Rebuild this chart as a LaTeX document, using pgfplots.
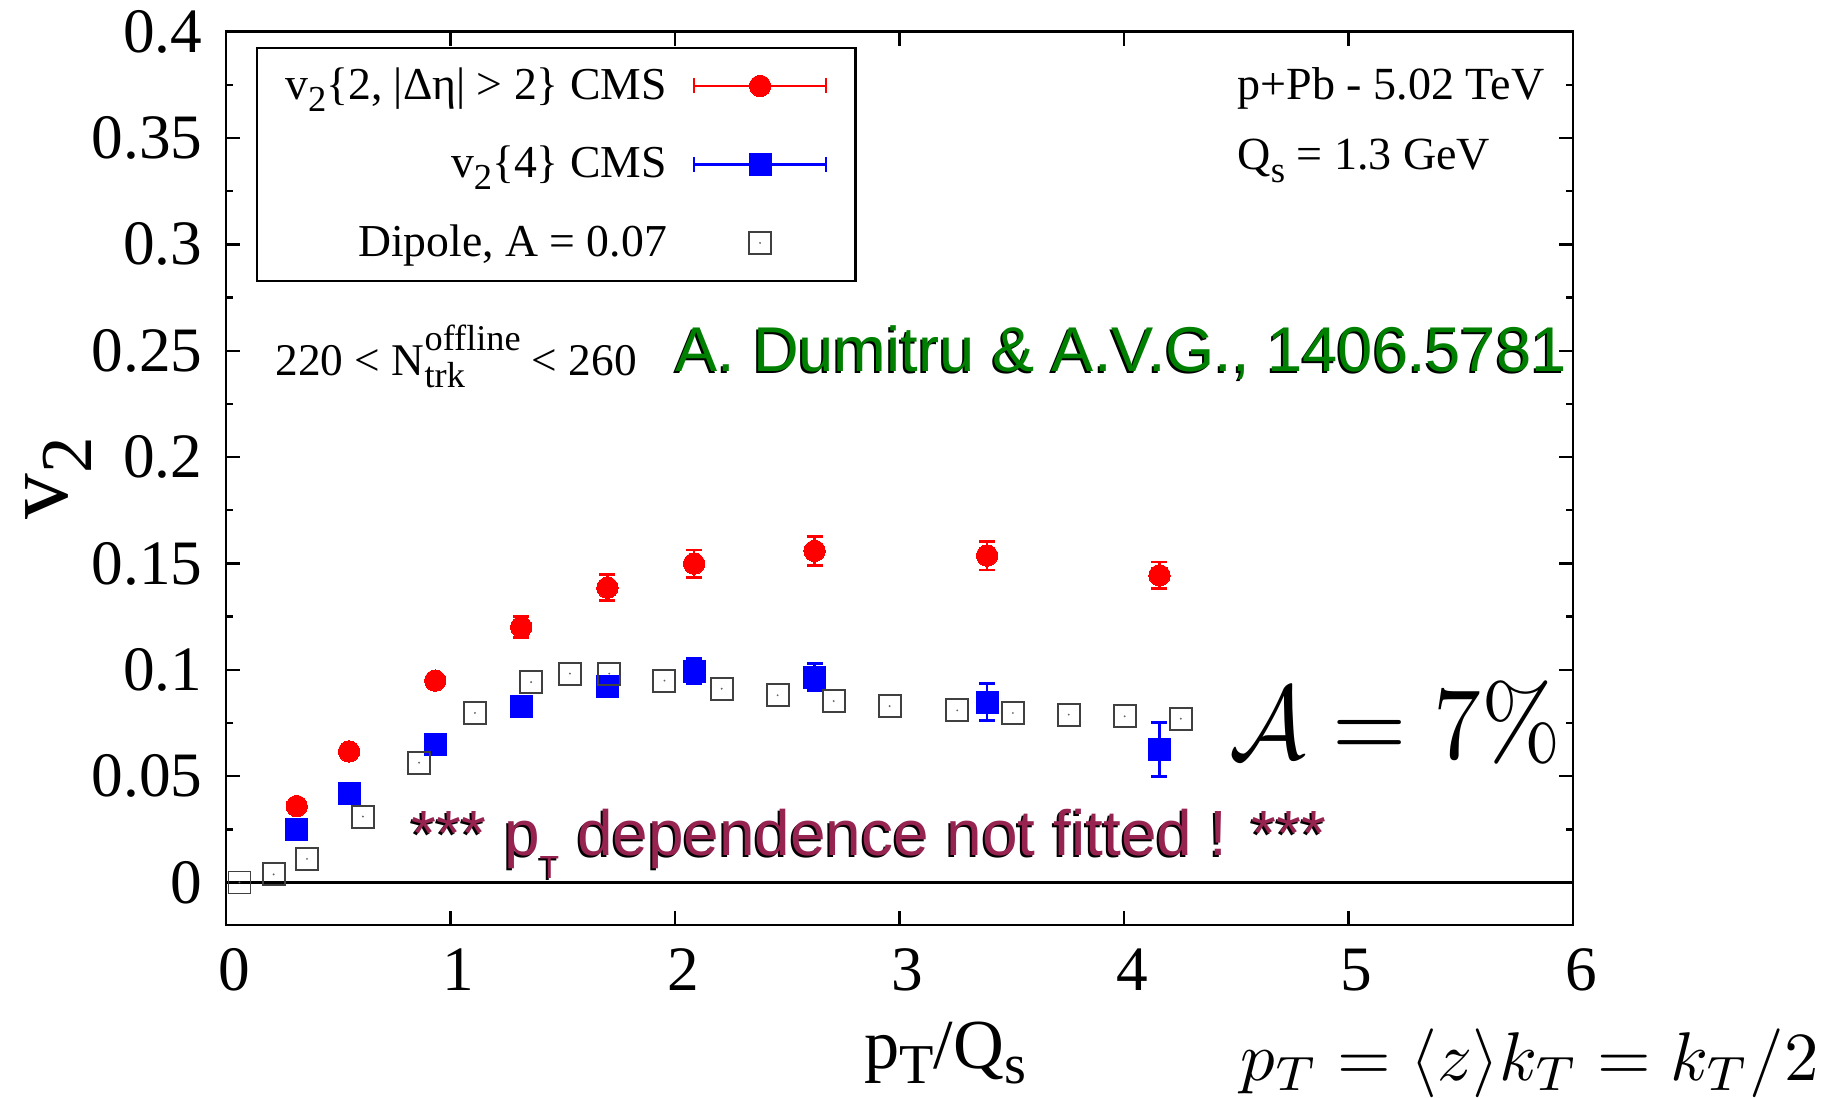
\documentclass[border=0pt]{standalone}
\usepackage[no-math]{fontspec}
\setmainfont{Liberation Serif}
\newfontfamily\arial{Liberation Sans}
\usepackage{graphicx}
\usepackage{pgfplots}
\pgfplotsset{compat=1.18}

\definecolor{maroon}{RGB}{150,35,80}
\definecolor{dgreen}{RGB}{0,128,0}

% gnuplot-style lowered / raised small text
\newcommand\gsub[1]{\raisebox{-0.27em}{\scalebox{0.8}{#1}}}
\newcommand\gsubx[1]{\raisebox{-0.22em}{\scalebox{0.8}{#1}}}
\newcommand\gsup[1]{\raisebox{0.55em}{\scalebox{0.8}{#1}}}

% open square with a tiny dot in the middle
\pgfdeclareplotmark{dipsq}{%
  \pgfpathrectangle{\pgfqpoint{-\pgfplotmarksize}{-\pgfplotmarksize}}%
    {\pgfqpoint{2\pgfplotmarksize}{2\pgfplotmarksize}}%
  \pgfusepathqstroke
  \pgfpathcircle{\pgfpointorigin}{0.3pt}%
  \pgfusepathqfill}

\pgfplotstableread{
x      y       e
0.315  0.0359  0.003
0.548  0.0616  0.003
0.932  0.0949  0.003
1.315  0.1201  0.0051
1.699  0.1386  0.0061
2.085  0.1499  0.0064
2.622  0.1559  0.0068
3.390  0.1537  0.0068
4.158  0.1444  0.0063
}\vtwoTwo

\pgfplotstableread{
x      y       e
0.315  0.0249  0.002
0.548  0.0420  0.002
0.932  0.0648  0.002
1.315  0.0828  0.003
1.699  0.0922  0.004
2.085  0.0993  0.0060
2.622  0.0966  0.0063
3.390  0.0848  0.0086
4.158  0.0626  0.0127
}\vtwoFour

\pgfplotstableread{
x      y
0.060  0.0000
0.212  0.0038
0.361  0.0111
0.610  0.0310
0.860  0.0563
1.109  0.0797
1.359  0.0942
1.532  0.0982
1.707  0.0982
1.953  0.0949
2.208  0.0911
2.457  0.0880
2.707  0.0853
2.956  0.0829
3.257  0.0809
3.505  0.0797
3.754  0.0789
4.003  0.0781
4.253  0.0770
}\dipole

\begin{document}
\begin{tikzpicture}
\path[use as bounding box] (-2.26,-1.72) rectangle (16.14,9.25);
\begin{axis}[
  scale only axis, width=13.47cm, height=8.933cm,
  xmin=0, xmax=6, ymin=-0.02, ymax=0.4,
  clip=false,
  xtick={0,1,2,3,4,5,6},
  xticklabels={0,1,2,3,4,5,6},
  ytick={0,0.05,0.1,0.15,0.2,0.25,0.3,0.35,0.4},
  yticklabels={0,0.05,0.1,0.15,0.2,0.25,0.3,0.35,0.4},
  minor ytick={0.025,0.075,0.125,0.175,0.225,0.275,0.325,0.375},
  tick pos=both, tick align=inside,
  major tick length=1.4mm, minor tick length=0.7mm,
  every tick/.style={black, line width=0.7pt},
  axis line style={line width=0.8pt},
  tick label style={font=\fontsize{18}{20}\selectfont},
  /pgf/number format/assume math mode=true,
  yticklabel style={inner sep=0pt, xshift=-2.3mm},
  xticklabel style={inner sep=0pt, yshift=-2.3mm, xshift=0.8mm},
  xlabel={p\gsubx{T}/Q\gsubx{s}},
  xlabel style={at={(axis description cs:0.534,0)}, anchor=base, yshift=-1.43cm,
    inner sep=0pt, font=\fontsize{20}{24}\selectfont},
  ylabel={v\gsub{2}},
  ylabel style={at={(axis description cs:-0.118,0.5)}, anchor=base,
    inner sep=0pt, font=\fontsize{26}{30}\selectfont},
  legend style={at={(axis description cs:0,1)}, anchor=north west,
    xshift=3mm, yshift=-1.5mm, draw=black, line width=0.7pt,
    inner xsep=2.8mm, inner ysep=0pt, row sep=0.25mm, column sep=2.6mm,
    nodes={inner sep=0pt}, font=\fontsize{13}{14}\selectfont},
  legend cell align=right,
  legend plot pos=right,
]

% reference line at v2 = 0
\draw[line width=0.8pt] (axis cs:0,0) -- (axis cs:6,0);

\addplot[only marks, mark=*, red, mark size=1.07mm,
  mark options={fill=red, draw=red, line width=0pt},
  error bars/.cd, y dir=both, y explicit,
  error bar style={line width=0.8pt, red},
  error mark options={red, line width=0.8pt, mark size=0.8mm, rotate=90},
  /pgfplots/legend image code/.code={
    \path[draw=none, fill=none] (0,-3.8mm) rectangle (1.32cm,3.8mm);
    \draw[red, line width=0.7pt] (0,0) -- (1.32cm,0)
      (0,-0.75mm) -- (0,0.75mm) (1.32cm,-0.75mm) -- (1.32cm,0.75mm);
    \draw plot coordinates {(0.66cm,0)};
  }]
  table[x=x, y=y, y error=e] {\vtwoTwo};
\addlegendentry{v\gsub{2}\{2, |Δη| > 2\} CMS}

\addplot[only marks, mark=square*, blue, mark size=1.1mm,
  mark options={fill=blue, draw=blue, line width=0pt},
  error bars/.cd, y dir=both, y explicit,
  error bar style={line width=0.8pt, blue},
  error mark options={blue, line width=0.8pt, mark size=0.8mm, rotate=90},
  /pgfplots/legend image code/.code={
    \path[draw=none, fill=none] (0,-3.8mm) rectangle (1.32cm,3.8mm);
    \draw[blue, line width=0.7pt] (0,0) -- (1.32cm,0)
      (0,-0.75mm) -- (0,0.75mm) (1.32cm,-0.75mm) -- (1.32cm,0.75mm);
    \draw plot coordinates {(0.66cm,0)};
  }]
  table[x=x, y=y, y error=e] {\vtwoFour};
\addlegendentry{v\gsub{2}\{4\} CMS}

\addplot[only marks, mark=dipsq, black!75, mark size=1.1mm,
  mark options={line width=0.55pt, draw=black!75, fill=black!60},
  /pgfplots/legend image code/.code={
    \path[draw=none, fill=none] (0,-3.8mm) rectangle (1.32cm,3.8mm);
    \draw plot coordinates {(0.66cm,0)};
  }]
  table[x=x, y=y] {\dipole};
\addlegendentry{Dipole, A = 0.07}

% annotations
\node[anchor=base west, inner sep=0pt, font=\fontsize{13.1}{14}\selectfont]
  at (axis cs:4.503,0.3679) {p+Pb - 5.02 TeV};
\node[anchor=base west, inner sep=0pt, font=\fontsize{13.1}{14}\selectfont]
  at (axis cs:4.503,0.335) {Q\gsub{s} = 1.3 GeV};
\node[anchor=base west, inner sep=0pt, font=\fontsize{12.9}{14}\selectfont]
  at (axis cs:0.218,0.2385) {220 < N\rlap{\gsub{trk}}\gsup{offline} < 260};

\node[anchor=base west, inner sep=0pt, xshift=-0.2mm, yshift=-0.2mm,
  font=\arial\fontsize{18}{20}\selectfont, text=black]
  at (axis cs:2.0,0.2404) {A. Dumitru \& A.V.G., 1406.5781};
\node[anchor=base west, inner sep=0pt,
  font=\arial\fontsize{18}{20}\selectfont, text=dgreen]
  at (axis cs:2.0,0.2404) {A. Dumitru \& A.V.G., 1406.5781};

\node[anchor=base west, inner sep=0pt, xshift=-0.2mm, yshift=-0.2mm,
  font=\arial\fontsize{18.2}{20}\selectfont, text=black]
  at (axis cs:0.824,0.0127) {*** p\raisebox{-0.36em}{\scalebox{0.5}{T}} dependence not fitted ! ***};
\node[anchor=base west, inner sep=0pt,
  font=\arial\fontsize{18.2}{20}\selectfont, text=maroon]
  at (axis cs:0.824,0.0127) {*** p\raisebox{-0.36em}{\scalebox{0.5}{T}} dependence not fitted ! ***};

\node[anchor=base west, inner sep=0pt]
  at (axis cs:4.468,0.0583) {\scalebox{2.72}[2.95]{$\mathcal{A}=7\%$}};
\node[anchor=base west, inner sep=0pt]
  at (axis cs:4.517,-0.0931) {\scalebox{1.96}{$p_T=\langle z\rangle k_T=k_T/2$}};
\end{axis}
\end{tikzpicture}
\end{document}
